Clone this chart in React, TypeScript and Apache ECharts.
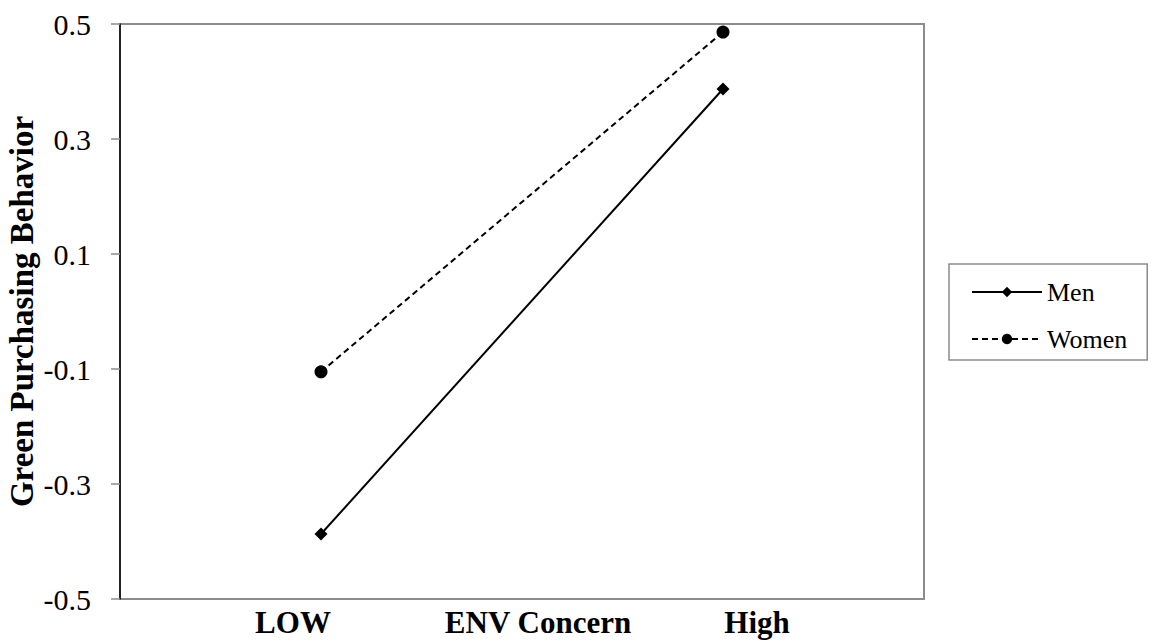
import React, { useEffect, useRef } from "react";
import * as echarts from "echarts";

const categories = ["", "LOW", "ENV Concern", "High", ""];
const tickLabels = ["LOW", "ENV Concern", "High"];
const seriesNames = ["Men", "Women"];
const menValues = [null, -0.387, null, 0.387, null];
const womenValues = [null, -0.105, null, 0.486, null];
const yTicks = { min: -0.5, max: 0.5, interval: 0.2 };

const SERIF = "Liberation Serif";

export default function App() {
  const ref = useRef<HTMLDivElement>(null);
  useEffect(() => {
    if (!ref.current) return;
    const chart = echarts.init(ref.current, undefined, { renderer: "svg" });
    const labelX = [293, 538, 757];
    chart.setOption({
      animation: false,
      backgroundColor: "#ffffff",
      textStyle: { fontFamily: SERIF },
      grid: {
        left: 120,
        top: 24,
        right: 232,
        bottom: 43,
        containLabel: false,
        outerBoundsMode: "none",
        show: true,
        borderColor: "#8c8c8c",
        borderWidth: 2,
        backgroundColor: "transparent",
      },
      xAxis: {
        type: "category",
        data: categories,
        boundaryGap: false,
        axisLine: { show: true, onZero: false, lineStyle: { color: "#8c8c8c", width: 2 } },
        axisTick: { show: false },
        axisLabel: { show: false },
        splitLine: { show: false },
      },
      yAxis: {
        type: "value",
        min: yTicks.min,
        max: yTicks.max,
        interval: yTicks.interval,
        z: 5,
        axisLine: { show: true, onZero: false, lineStyle: { color: "#000000", width: 1.5 } },
        axisTick: { show: true, length: 9, lineStyle: { color: "#8c8c8c", width: 1.5 } },
        splitLine: { show: false },
        axisLabel: {
          fontFamily: SERIF,
          fontSize: 30,
          color: "#000",
          margin: 29,
          formatter: (v: number) => {
            const r = Math.round(v * 10) / 10;
            return r.toFixed(1);
          },
        },
        name: "Green Purchasing Behavior",
        nameLocation: "middle",
        nameGap: 82,
        nameMoveOverlap: false,
        nameTextStyle: {
          fontFamily: SERIF,
          fontSize: 33,
          fontWeight: "bold",
          color: "#000",
        },
      },
      legend: {
        left: 949,
        top: 264,
        orient: "vertical",
        data: seriesNames,
        itemWidth: 70,
        itemHeight: 13,
        itemGap: 21,
        padding: [15, 20, 8, 22],
        borderColor: "#8c8c8c",
        borderWidth: 1.5,
        textStyle: {
          fontFamily: SERIF,
          fontSize: 26,
          color: "#000",
          lineHeight: 26,
        },
      },
      series: [
        {
          name: seriesNames[0],
          type: "line",
          data: menValues,
          connectNulls: true,
          symbol: "diamond",
          symbolSize: 13,
          lineStyle: { color: "#000", width: 2, type: "solid" },
          itemStyle: { color: "#000" },
        },
        {
          name: seriesNames[1],
          type: "line",
          data: womenValues,
          connectNulls: true,
          symbol: "circle",
          symbolSize: 13,
          lineStyle: { color: "#000", width: 2, type: [6, 4] },
          itemStyle: { color: "#000" },
        },
      ],
      graphic: tickLabels.map((t, i) => ({
        type: "text",
        x: labelX[i],
        y: 622,
        style: {
          text: t,
          fontFamily: SERIF,
          fontSize: 31,
          fontWeight: "bold",
          fill: "#000",
          align: "center",
          verticalAlign: "middle",
        },
      })),
    });
    return () => chart.dispose();
  }, []);
  return (
    <div
      ref={ref}
      style={{ position: "absolute", left: 0, top: 0, width: 1156, height: 642 }}
    />
  );
}
